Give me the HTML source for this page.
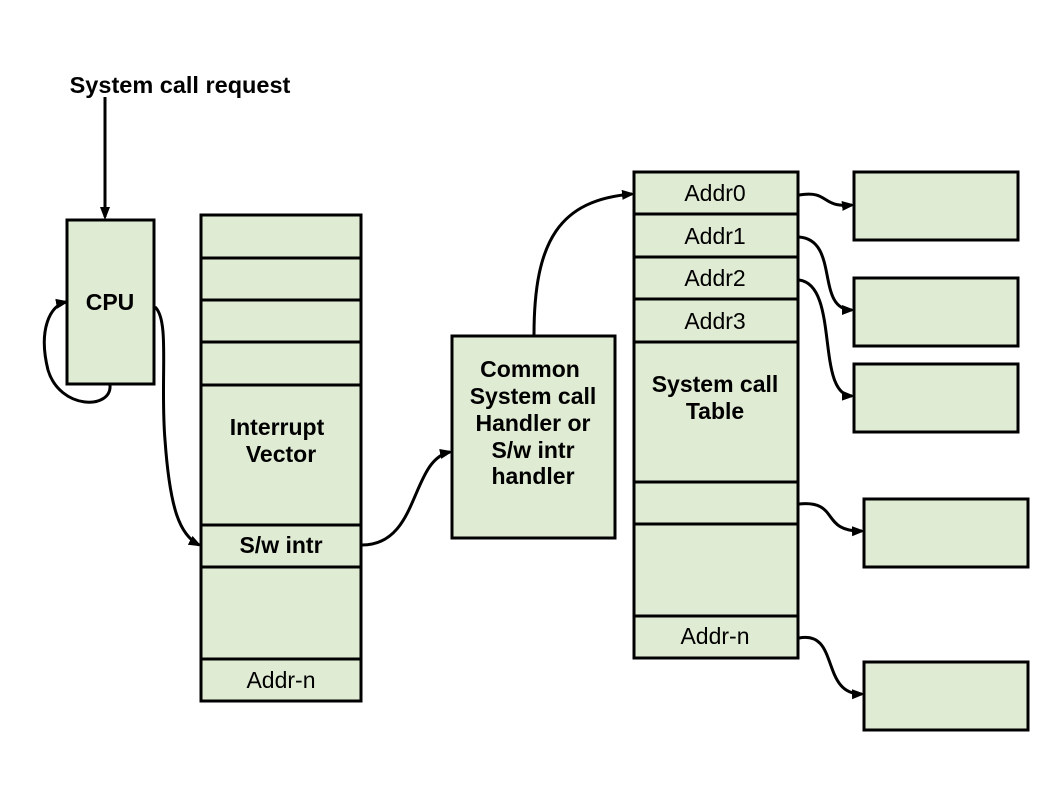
<!DOCTYPE html>
<html><head><style>body{margin:0;background:#fff}</style></head><body>
<svg width="1058" height="794" viewBox="0 0 1058 794" xmlns="http://www.w3.org/2000/svg" font-family="Liberation Sans, sans-serif">
<defs><marker id="a" markerWidth="12" markerHeight="12" refX="10" refY="6" orient="auto" markerUnits="userSpaceOnUse"><path d="M0,1 L13,6 L0,11 z" fill="#000"/></marker></defs>
<g fill="#dfebd3" stroke="#000" stroke-width="3">
<rect x="67" y="220" width="87" height="164"/>
<rect x="201" y="215" width="160" height="486"/>
<rect x="452" y="336" width="163" height="202"/>
<rect x="634" y="172" width="164" height="486"/>
<rect x="854" y="172" width="164" height="68"/>
<rect x="854" y="278" width="164" height="68"/>
<rect x="854" y="364" width="164" height="68"/>
<rect x="864" y="499" width="164" height="68"/>
<rect x="864" y="662" width="164" height="68"/>
</g>
<g stroke="#000" stroke-width="3">
<line x1="201" y1="258" x2="361" y2="258"/><line x1="201" y1="300" x2="361" y2="300"/><line x1="201" y1="342" x2="361" y2="342"/><line x1="201" y1="385" x2="361" y2="385"/><line x1="201" y1="525" x2="361" y2="525"/><line x1="201" y1="567" x2="361" y2="567"/><line x1="201" y1="659" x2="361" y2="659"/>
<line x1="634" y1="214" x2="798" y2="214"/><line x1="634" y1="257" x2="798" y2="257"/><line x1="634" y1="299" x2="798" y2="299"/><line x1="634" y1="342" x2="798" y2="342"/><line x1="634" y1="482" x2="798" y2="482"/><line x1="634" y1="524" x2="798" y2="524"/><line x1="634" y1="616" x2="798" y2="616"/>
</g>
<g fill="none" stroke="#000" stroke-width="3" marker-end="url(#a)">
<path d="M105,97 L105,217"/>
<path d="M110,385 C112,410 60,410 48,370 C38,330 50,305 66,302"/>
<path d="M155,307 C170,320 160,380 165,440 C170,510 180,535 199,545"/>
<path d="M362,545 C420,545 410,460 450,452"/>
<path d="M534,335 C534,240 560,200 632,194"/>
<path d="M799,195 C830,190 820,208 852,205"/>
<path d="M799,237 C840,240 815,310 852,310"/>
<path d="M799,280 C840,285 815,395 852,396"/>
<path d="M799,504 C840,500 820,532 862,531"/>
<path d="M799,638 C840,630 820,695 862,694"/>
</g>
<g font-size="23" text-anchor="middle" fill="#000">
<text x="180" y="93" font-weight="bold" font-size="23.5">System call request</text>
<text x="110" y="310" font-weight="bold">CPU</text>
<text x="277" y="435" font-weight="bold">Interrupt</text>
<text x="281" y="462" font-weight="bold">Vector</text>
<text x="281" y="553" font-weight="bold">S/w intr</text>
<text x="281" y="688">Addr-n</text>
<text x="530" y="377" font-weight="bold">Common</text>
<text x="533" y="404" font-weight="bold">System call</text>
<text x="533" y="431" font-weight="bold">Handler or</text>
<text x="533" y="458" font-weight="bold">S/w intr</text>
<text x="533" y="484" font-weight="bold">handler</text>
<text x="715" y="201">Addr0</text>
<text x="715" y="244">Addr1</text>
<text x="715" y="286">Addr2</text>
<text x="715" y="329">Addr3</text>
<text x="715" y="392" font-weight="bold">System call</text>
<text x="715" y="419" font-weight="bold">Table</text>
<text x="715" y="644">Addr-n</text>
</g>
</svg>
</body></html>
